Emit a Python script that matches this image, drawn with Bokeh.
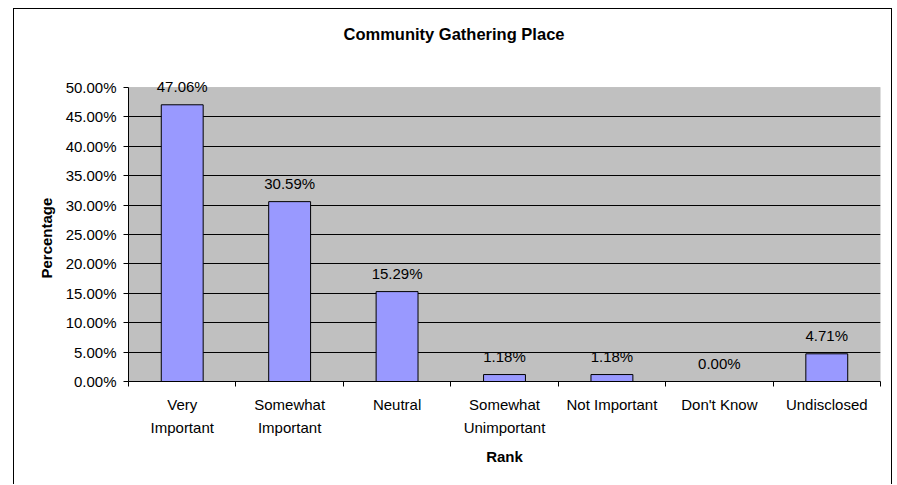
from bokeh.plotting import figure
from bokeh.models import (Range1d, LinearAxis, FixedTicker, BoxAnnotation,
                          PrintfTickFormatter, ColumnDataSource, Label, Title)
from bokeh.embed import file_html
from bokeh.resources import INLINE

# ---- data ----
categories = ["Very\nImportant", "Somewhat\nImportant", "Neutral",
              "Somewhat\nUnimportant", "Not Important", "Don't Know", "Undisclosed"]
values = [47.06, 30.59, 15.29, 1.18, 1.18, 0.00, 4.71]
y_ticks = [0, 5, 10, 15, 20, 25, 30, 35, 40, 45, 50]
title_text = "Community Gathering Place"
x_title = "Rank"
y_title = "Percentage"

FONT = "Liberation Sans"

# layout (pixels)
W, H = 879, 476
ML, MR, MB = 114, 13, 104        # frame: left 128, right 880, bottom 381
PLOT_H = 294                     # height of the 0..50% grey area
FRAME_H = H - MB                 # frame reaches the top of the canvas

n = len(categories)
centers = [i + 0.5 for i in range(n)]
edges = list(range(n + 1))
y_top = y_ticks[-1] * FRAME_H / PLOT_H

src = ColumnDataSource(dict(x=centers, val=values))

p = figure(x_range=Range1d(0, n),
           y_range=Range1d(y_ticks[0], y_top),
           width=W, height=H, output_backend="svg", toolbar_location=None,
           x_axis_location=None,
           min_border_left=ML, min_border_right=MR, min_border_top=0, min_border_bottom=MB)

p.styles = {"border-top": "1px solid black", "border-left": "1px solid black",
            "border-right": "1px solid black", "margin-left": "13px", "margin-top": "8px"}

p.background_fill_color = "white"
p.border_fill_color = "white"
p.outline_line_color = None

# grey plot area 0..50%
p.add_layout(BoxAnnotation(bottom=y_ticks[0], top=y_ticks[-1], fill_color="#C0C0C0",
                           fill_alpha=1, line_color="#808080", line_width=1, level="image"))

p.vbar(x="x", top="val", width=0.39, source=src,
       fill_color="#9999FF", line_color="black", line_width=1)

for xc, v in zip(centers, values):
    p.add_layout(Label(x=xc, y=v, text="%.2f%%" % v, y_offset=18,
                       text_align="center", text_baseline="middle",
                       text_font=FONT, text_font_size="15px", text_color="black"))

# chart title (centred on the whole chart box)
p.add_layout(Label(x=453.5 - 128, y=381 - 33, x_units="screen", y_units="screen",
                   text=title_text, text_align="center", text_baseline="middle",
                   text_font=FONT, text_font_size="16.5px", text_font_style="bold",
                   text_color="black"))

# y axis
ya = p.yaxis[0]
ya.bounds = (y_ticks[0], y_ticks[-1])
ya.ticker = FixedTicker(ticks=y_ticks)
ya.formatter = PrintfTickFormatter(format="%.2f%%")
ya.major_label_text_font = FONT
ya.major_label_text_font_size = "15px"
ya.major_label_text_color = "black"
ya.major_label_standoff = 7
ya.major_tick_out = 5
ya.major_tick_in = 0
ya.minor_tick_line_color = None
ya.axis_line_color = "black"
ya.major_tick_line_color = "black"

# y-axis title, centred on the grey 0..50% area
p.add_layout(Title(text=y_title, align="left", offset=103, standoff=16,
                   text_font=FONT, text_font_size="15px", text_font_style="bold",
                   text_color="black"), "left")

p.ygrid.ticker = FixedTicker(ticks=y_ticks[1:-1])
p.ygrid.grid_line_color = "black"
p.ygrid.grid_line_width = 1
for g in p.xgrid:
    g.visible = False

# x axis: ticks at category boundaries (no labels)
tick_axis = LinearAxis(ticker=FixedTicker(ticks=edges),
                       major_label_overrides={e: "" for e in edges},
                       major_label_standoff=0,
                       major_tick_out=5, major_tick_in=0,
                       minor_tick_line_color=None,
                       axis_line_color="black", major_tick_line_color="black")
p.add_layout(tick_axis, "below")

label_axis = LinearAxis(ticker=FixedTicker(ticks=centers),
                        major_label_overrides={c: lab for c, lab in zip(centers, categories)},
                        axis_line_color=None, major_tick_line_color=None,
                        minor_tick_line_color=None,
                        major_label_standoff=3,
                        major_label_text_font=FONT,
                        major_label_text_font_size="15px",
                        major_label_text_color="black",
                        major_label_text_line_height=1.4,
                        axis_label=x_title,
                        axis_label_text_font=FONT,
                        axis_label_text_font_size="15px",
                        axis_label_text_font_style="bold",
                        axis_label_text_color="black",
                        axis_label_standoff=9)
p.add_layout(label_axis, "below")

open("out.html", "w").write(file_html(p, INLINE))
